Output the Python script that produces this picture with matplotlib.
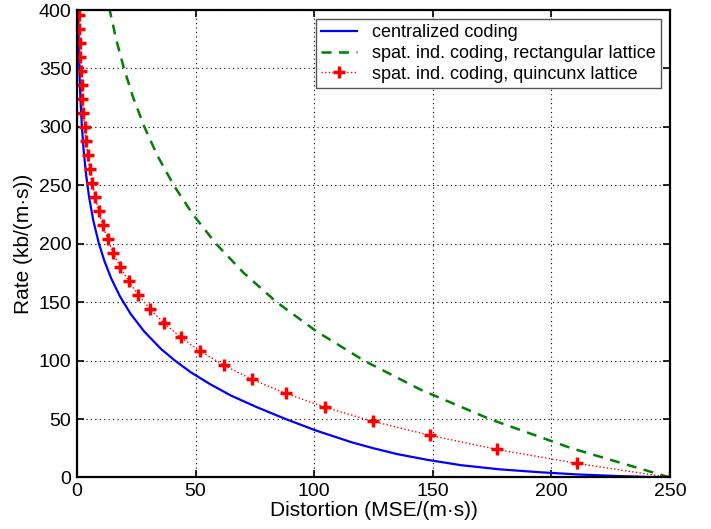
import matplotlib.pyplot as plt

plt.rcParams['font.family'] = ['Liberation Sans', 'DejaVu Sans']

# centralized coding (distortion, rate)
central_rate = [400, 380, 360, 340, 320, 300, 280, 260, 240, 220, 200, 185, 170, 155,
                140, 125, 110, 100, 90, 80, 70, 60, 50, 40, 30, 25, 20, 15, 10.5, 7,
                4.5, 2.6, 1.3, 0.5, 0]
central_dist = [0.47, 0.63, 0.85, 1.14, 1.54, 2.08, 2.8, 3.78, 5.09, 6.86, 9.25, 11.6,
                14.5, 18.1, 22.6, 28.3, 35.4, 41.3, 48, 56, 65, 76, 88, 101, 116, 125,
                135, 148, 162, 178, 195, 211, 227, 240, 250]

# spatially independent coding, rectangular lattice
rect_rate = [0, 25, 50, 75, 100, 125, 150, 175, 200, 225, 250, 275, 300, 325, 350, 375, 400]
rect_dist = [250, 208.5, 174, 145, 121, 101, 84.2, 70.3, 58.6, 48.9, 40.8, 34, 28.4,
             23.7, 19.8, 16.5, 13.8]

# spatially independent coding, quincunx lattice
quin_rate = [0, 12, 24, 36, 48, 60, 72, 84, 96, 108, 120, 132, 144, 156, 168, 180, 192,
             204, 216, 228, 240, 252, 264, 276, 288, 300, 312, 324, 336, 348, 360, 372, 384, 396]
quin_dist = [250, 211, 177, 149, 124.8, 104.7, 88, 73.7, 62, 52, 43.7, 36.7, 30.8, 25.9,
             21.8, 18.2, 15.3, 12.9, 10.8, 9.1, 7.6, 6.4, 5.4, 4.5, 3.8, 3.2, 2.7, 2.2,
             1.9, 1.6, 1.3, 1.1, 0.9, 0.8]

fig = plt.figure(figsize=(7.11, 5.29), dpi=100)
ax = fig.add_axes([0.1083, 0.0974, 0.8340, 0.8836])

ax.plot(central_dist, central_rate, color='#0000ff', lw=1.6, label='centralized coding')
ax.plot(rect_dist, rect_rate, color='#008000', lw=1.8, linestyle=(0, (4, 3)),
        label='spat. ind. coding, rectangular lattice')
ax.plot(quin_dist, quin_rate, color='#ff0000', lw=1.0, linestyle=':', marker='+',
        ms=8, mew=2.5, label='spat. ind. coding, quincunx lattice')

ax.set_xlim(0, 250)
ax.set_ylim(0, 400)
ax.set_xticks(range(0, 251, 50))
ax.set_yticks(range(0, 401, 50))
ax.tick_params(direction='in', top=True, right=True, labelsize=14, length=5, width=1.2, pad=4)
ax.grid(True, color='black', linestyle=(0, (1, 3)), lw=0.8)
for s in ax.spines.values():
    s.set_linewidth(1.6)

ax.set_xlabel('Distortion (MSE/(m·s))', fontsize=15, labelpad=1)
ax.set_ylabel('Rate (kb/(m·s))', fontsize=15, labelpad=4)

leg = ax.legend(loc='upper right', fontsize=13, frameon=True, fancybox=False,
                edgecolor='#555555', framealpha=1, borderpad=0.3, labelspacing=0.2,
                handlelength=2.0, handletextpad=0.8, borderaxespad=0.5)
leg.get_frame().set_linewidth(1.0)

fig.savefig('out.png', dpi=100)
